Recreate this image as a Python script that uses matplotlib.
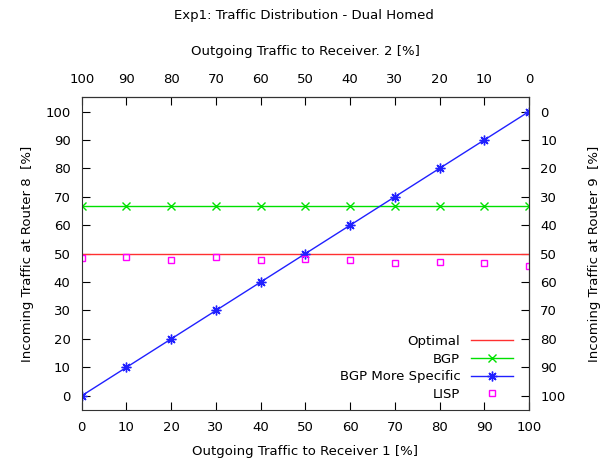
import matplotlib
matplotlib.use("Agg")
import matplotlib.pyplot as plt

# data
x_pct = [0, 10, 20, 30, 40, 50, 60, 70, 80, 90, 100]
optimal = [50] * 11
bgp = [66.67] * 11
bgp_specific = [0, 10, 20, 30, 40, 50, 60, 70, 80, 90, 100]
lisp = [48.6, 48.8, 47.8, 48.8, 47.7, 48.1, 47.8, 46.7, 47.1, 46.7, 45.7]
ticks = [0, 10, 20, 30, 40, 50, 60, 70, 80, 90, 100]

plt.rcParams["font.family"] = ["DejaVu Sans"]
plt.rcParams["font.size"] = 9.5

fig = plt.figure(figsize=(6.07, 4.70), dpi=100)
ax = fig.add_axes([0.1346, 0.1277, 0.737, 0.6653])

ax.plot(x_pct, optimal, "-", color="#ff3030", lw=1, label="Optimal")
ax.plot(x_pct, bgp, "-x", color="#00e000", lw=1, ms=6, mew=1, label="BGP")
ax.plot(x_pct, bgp_specific, "-", marker=(8, 2, 0), color="#2020ff", lw=1,
        ms=7, mew=1, label="BGP More Specific")
ax.plot(x_pct, lisp, "s", color="#ff00ff", ms=5, mfc="none", mew=1, label="LISP")

ax.set_xlim(0, 100)
ax.set_ylim(-5, 105)
ax.set_xticks(ticks)
ax.set_yticks(ticks)
ax.tick_params(direction="in", length=6, width=0.8, pad=8, right=False, top=False)
ax.set_xlabel("Outgoing Traffic to Receiver 1 [%]", labelpad=8)
ax.set_ylabel("Incoming Traffic at Router 8  [%]", labelpad=8)
for s in ax.spines.values():
    s.set_color("#333333")

# top axis: complement of receiver 1
top = ax.secondary_xaxis("top", functions=(lambda v: 100 - v, lambda v: 100 - v))
top.set_xticks(ticks)
top.tick_params(direction="in", length=6, width=0.8, pad=8)
top.set_xlabel("Outgoing Traffic to Receiver. 2 [%]", labelpad=13)

# right axis: complement of router 8
right = ax.secondary_yaxis("right", functions=(lambda v: 100 - v, lambda v: 100 - v))
right.set_yticks(ticks)
right.tick_params(direction="in", length=6, width=0.8, pad=8)
right.set_ylabel("Incoming Traffic at Router 9  [%]", labelpad=16)

leg = ax.legend(loc="lower right", frameon=False, markerfirst=False,
                handlelength=3.2, labelspacing=0.35, borderaxespad=0.3,
                bbox_to_anchor=(0.985, 0.0))
for t in leg.get_texts():
    t.set_ha("right")

fig.suptitle("Exp1: Traffic Distribution - Dual Homed", y=0.98, fontsize=9.5)
fig.savefig("out.png", dpi=100)
